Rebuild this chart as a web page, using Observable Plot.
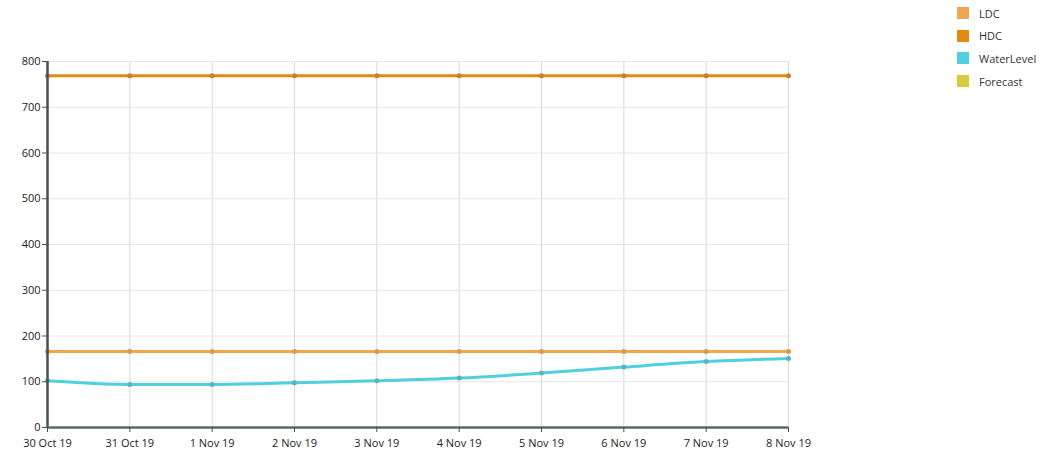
<!DOCTYPE html>
<html>
<head>
<meta charset="utf-8">
<script src="https://cdn.jsdelivr.net/npm/d3@7"></script>
<script src="https://cdn.jsdelivr.net/npm/@observablehq/plot@0.6"></script>
<style>
  body { margin: 0; background: #fff; font-family: "Open Sans", sans-serif; }
  #wrap { position: relative; width: 1045px; height: 452px; }
  #legend { position: absolute; left: 957px; top: 2px; font-size: 11px; color: #333; }
  .item { display: flex; align-items: center; height: 22.6px; }
  .sw { width: 12px; height: 12px; margin-right: 10px; }
</style>
</head>
<body>
<div id="wrap"><div id="legend"></div></div>
<script>
const dates = ["2019-10-30","2019-10-31","2019-11-01","2019-11-02","2019-11-03","2019-11-04","2019-11-05","2019-11-06","2019-11-07","2019-11-08"];
const ldc = [166,166,166,166,166,166,166,166,166,166];
const hdc = [769,769,769,769,769,769,769,769,769,769];
const waterLevel = [102,94,94,98,102,108,119,132,144,151];
const seriesNames = ["LDC","HDC","WaterLevel","Forecast"];
const seriesColors = ["#f0a850","#e48a12","#4fd0de","#d6cc3c"];
const yTicks = [0,100,200,300,400,500,600,700,800];

const parse = d3.utcParse("%Y-%m-%d");
const rows = (vals, name) => dates.map((d, i) => ({date: parse(d), value: vals[i], series: name}));
const ldcRows = rows(ldc, "LDC");
const hdcRows = rows(hdc, "HDC");
const wlRows = rows(waterLevel, "WaterLevel");
const xDates = dates.map(parse);
const color = name => seriesColors[seriesNames.indexOf(name)];

const chart = Plot.plot({
  width: 1045,
  height: 452,
  marginLeft: 47,
  marginRight: 257,
  marginTop: 61,
  marginBottom: 25,
  style: {fontFamily: "'Open Sans', sans-serif", fontSize: "11px", color: "#333", background: "transparent"},
  x: {type: "utc", domain: [xDates[0], xDates[xDates.length - 1]], ticks: xDates, tickFormat: d3.utcFormat("%-d %b %y"), label: null, tickSize: 5},
  y: {domain: [0, 800], ticks: yTicks, label: null, tickSize: 5},
  marks: [
    Plot.gridX(xDates, {stroke: "#d8d8d8", strokeOpacity: 1}),
    Plot.gridY(yTicks, {stroke: "#e6e6e6", strokeOpacity: 1}),
    Plot.line(ldcRows, {x: "date", y: "value", stroke: color("LDC"), strokeWidth: 3}),
    Plot.dot(ldcRows, {x: "date", y: "value", fill: "#d69a50", r: 2.5}),
    Plot.line(hdcRows, {x: "date", y: "value", stroke: color("HDC"), strokeWidth: 3}),
    Plot.dot(hdcRows, {x: "date", y: "value", fill: "#c88030", r: 2.5}),
    Plot.line(wlRows, {x: "date", y: "value", stroke: color("WaterLevel"), strokeWidth: 3, curve: "monotone-x"}),
    Plot.dot(wlRows, {x: "date", y: "value", fill: "#5ab4c0", r: 2.5}),
    Plot.ruleX([xDates[0]], {stroke: "#4a5050", strokeWidth: 2.5}),
    Plot.ruleY([0], {stroke: "#5a6868", strokeWidth: 2.5}),
    Plot.axisX({ticks: xDates, tickFormat: d3.utcFormat("%-d %b %y"), tickSize: 5, stroke: "#4a5050", fill: "#222", tickPadding: 7}),
    Plot.axisY({ticks: yTicks, tickSize: 5, stroke: "#4a5050", fill: "#222", tickPadding: 2})
  ]
});
document.getElementById("wrap").prepend(chart);

const legend = document.getElementById("legend");
seriesNames.forEach((n, i) => {
  const item = document.createElement("div");
  item.className = "item";
  const sw = document.createElement("div");
  sw.className = "sw";
  sw.style.background = seriesColors[i];
  const t = document.createElement("span");
  t.textContent = n;
  item.append(sw, t);
  legend.append(item);
});
</script>
</body>
</html>
